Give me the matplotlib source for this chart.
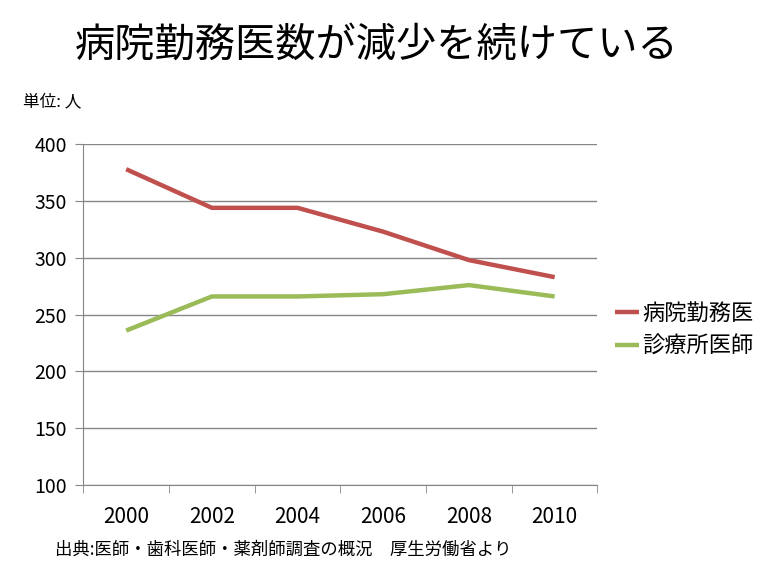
import matplotlib
matplotlib.use("Agg")
import matplotlib.pyplot as plt
import numpy as np

plt.rcParams['font.family'] = ['Noto Sans CJK JP', 'DejaVu Sans']

years = ['2000', '2002', '2004', '2006', '2008', '2010']
hospital = [378, 344, 344, 323, 298, 283]
clinic = [236, 266, 266, 268, 276, 266]
series_labels = ['病院勤務医', '診療所医師']
colors = ['#C0504D', '#9BBB59']

fig = plt.figure(figsize=(7.79, 5.70), dpi=100)
ax = fig.add_axes([0.107, 0.149, 0.660, 0.598])

x = np.arange(len(years))
ax.plot(x, hospital, color=colors[0], lw=3.2, label=series_labels[0], solid_capstyle='butt')
ax.plot(x, clinic, color=colors[1], lw=3.2, label=series_labels[1], solid_capstyle='butt')

ax.set_xlim(-0.5, len(years) - 0.5)
ax.set_ylim(100, 400)
ax.set_yticks(np.arange(100, 401, 50))
ax.yaxis.grid(True, color='#868686', lw=1)
ax.set_axisbelow(True)

# category labels centred, tick marks on the boundaries (Excel style)
ax.set_xticks(x)
ax.set_xticklabels(years)
ax.set_xticks(np.arange(-0.5, len(years)), minor=True)
ax.tick_params(axis='x', which='major', length=0, pad=15, labelsize=15)
ax.tick_params(axis='x', which='minor', length=6, color='#868686', direction='out')
ax.tick_params(axis='y', length=6, color='#868686', pad=6, labelsize=14)

for s in ['top', 'right']:
    ax.spines[s].set_visible(False)
for s in ['left', 'bottom']:
    ax.spines[s].set_color('#868686')

leg = ax.legend(loc='center left', bbox_to_anchor=(0.789, 0.421),
                bbox_transform=fig.transFigure, frameon=False, fontsize=16,
                handlelength=1.1, handletextpad=0.15, labelspacing=0.45,
                borderpad=0, borderaxespad=0)

fig.text(0.484, 0.921, '病院勤務医数が減少を続けている', fontsize=29,
         ha='center', va='center')
fig.text(0.030, 0.821, '単位: 人', fontsize=12, ha='left', va='center')
fig.text(0.071, 0.035, '出典:医師・歯科医師・薬剤師調査の概況　厚生労働省より',
         fontsize=12.5, ha='left', va='center')

fig.savefig('out.png', dpi=100)
